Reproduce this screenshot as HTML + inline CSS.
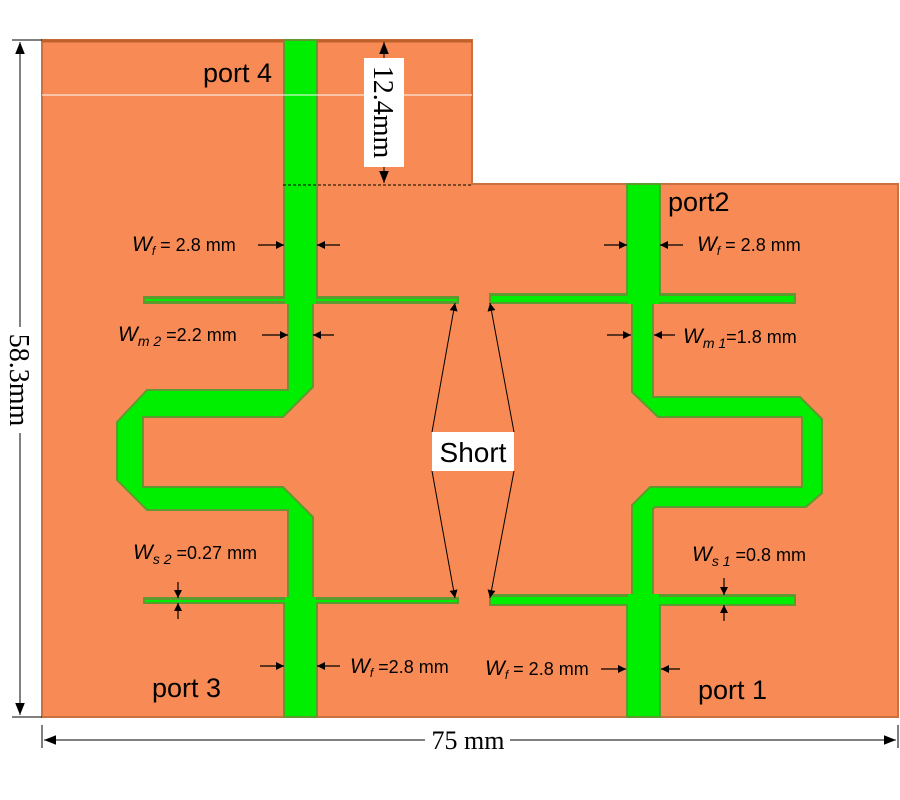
<!DOCTYPE html>
<html><head><meta charset="utf-8"><style>
html,body{margin:0;padding:0;background:#fff;}
svg{display:block;}
.s{font-family:"Liberation Sans",sans-serif;fill:#000;}
.r{font-family:"Liberation Serif",serif;fill:#000;}
</style></head><body>
<svg width="900" height="800" viewBox="0 0 900 800" xmlns="http://www.w3.org/2000/svg">
<defs>
<marker id="a" viewBox="0 0 10 10" refX="10" refY="5" markerWidth="8" markerHeight="8" orient="auto-start-reverse" markerUnits="userSpaceOnUse"><path d="M0,0 L10,5 L0,10 z" fill="#000"/></marker>
<marker id="b" viewBox="0 0 10 10" refX="10" refY="5" markerWidth="14" markerHeight="12" orient="auto-start-reverse" markerUnits="userSpaceOnUse"><path d="M0,1 L10,5 L0,9 z" fill="#000"/></marker>
</defs>
<!-- board -->
<path d="M42,40 H472 V184 H898 V717 H42 Z" fill="#F88B55" stroke="#C9713F" stroke-width="2"/>
<line x1="42" y1="41" x2="472" y2="41" stroke="#C0602A" stroke-width="3"/>
<!-- green -->
<g fill="#00EE00" stroke="#5E9A30" stroke-width="2" stroke-linejoin="miter">
<polygon points="288,300 313,300 313,387 283,417 143,417 143,487 283,487 313,517 313,600 288,600 288,510 147,510 117,480 117,422 147,390 288,390"/>
<polygon points="632,300 653,300 653,397 800,397 822,419 822,493 806,507 655,507 653,509 653,600 632,600 632,505 650,487 802,487 802,417 658,417 632,392"/>
<rect x="284" y="40" width="33" height="262"/>
<rect x="284" y="598" width="33" height="119"/>
<rect x="627" y="184" width="33" height="118"/>
<rect x="627" y="596" width="33" height="121"/>
</g>
<g fill="#5E9A30">
<rect x="143" y="296" width="316" height="8"/>
<rect x="143" y="597" width="316" height="7"/>
<rect x="489" y="293" width="307" height="11"/>
<rect x="489" y="594" width="307" height="12"/>
</g>
<g fill="#00EE00">
<rect x="285" y="296" width="31" height="8"/>
<rect x="285" y="597" width="31" height="7"/>
<rect x="628" y="293" width="31" height="11"/>
<rect x="628" y="594" width="31" height="12"/>
<rect x="145" y="299" width="312" height="2"/>
<rect x="145" y="600" width="312" height="2"/>
<rect x="491" y="296" width="303" height="6"/>
<rect x="491" y="597" width="303" height="7"/>
</g>
<line x1="42" y1="95" x2="472" y2="95" stroke="#fff" stroke-width="1"/>
<line x1="283" y1="185" x2="472" y2="185" stroke="#000" stroke-width="1" stroke-dasharray="3,2"/>
<!-- dimension lines -->
<line x1="12" y1="40" x2="42" y2="40" stroke="#000"/>
<line x1="12" y1="717" x2="42" y2="717" stroke="#000"/>
<line x1="20" y1="42" x2="20" y2="327" stroke="#000" marker-start="url(#b)"/>
<line x1="20" y1="433" x2="20" y2="715" stroke="#000" marker-end="url(#b)"/>
<text class="r" font-size="28" transform="translate(10,380) rotate(90)" text-anchor="middle">58.3mm</text>
<line x1="42" y1="725" x2="42" y2="748" stroke="#000"/>
<line x1="898" y1="725" x2="898" y2="748" stroke="#000"/>
<line x1="44" y1="740" x2="425" y2="740" stroke="#000" marker-start="url(#b)"/>
<line x1="510" y1="740" x2="896" y2="740" stroke="#000" marker-end="url(#b)"/>
<text class="r" font-size="26" x="468" y="749" text-anchor="middle">75 mm</text>
<!-- 12.4mm -->
<line x1="384" y1="60" x2="384" y2="42" stroke="#000" marker-end="url(#b)"/>
<line x1="384" y1="165" x2="384" y2="183" stroke="#000" marker-end="url(#b)"/>
<rect x="364" y="58" width="40" height="109" fill="#fff"/>
<text class="r" font-size="28" transform="translate(374,112) rotate(90)" text-anchor="middle">12.4mm</text>
<!-- ports -->
<text class="s" font-size="27" x="203" y="82">port 4</text>
<text class="s" font-size="27" x="668" y="211">port2</text>
<text class="s" font-size="27" x="152" y="697">port 3</text>
<text class="s" font-size="27" x="698" y="699">port 1</text>
<!-- Short -->
<g stroke="#000" stroke-width="1">
<line x1="432" y1="432" x2="455" y2="303" marker-end="url(#a)"/>
<line x1="514" y1="432" x2="490" y2="303" marker-end="url(#a)"/>
<line x1="432" y1="471" x2="455" y2="598" marker-end="url(#a)"/>
<line x1="514" y1="471" x2="490" y2="598" marker-end="url(#a)"/>
</g>
<rect x="432" y="432" width="82" height="39" fill="#fff"/>
<text class="s" font-size="28" x="473" y="462" text-anchor="middle">Short</text>
<!-- width arrows -->
<g stroke="#000" stroke-width="1.2">
<line x1="258" y1="245" x2="284" y2="245" marker-end="url(#a)"/>
<line x1="340" y1="245" x2="317" y2="245" marker-end="url(#a)"/>
<line x1="604" y1="245" x2="627" y2="245" marker-end="url(#a)"/>
<line x1="683" y1="245" x2="660" y2="245" marker-end="url(#a)"/>
<line x1="262" y1="335" x2="288" y2="335" marker-end="url(#a)"/>
<line x1="334" y1="335" x2="313" y2="335" marker-end="url(#a)"/>
<line x1="607" y1="335" x2="631" y2="335" marker-end="url(#a)"/>
<line x1="675" y1="335" x2="654" y2="335" marker-end="url(#a)"/>
<line x1="178" y1="582" x2="178" y2="598" marker-end="url(#a)"/>
<line x1="178" y1="619" x2="178" y2="603" marker-end="url(#a)"/>
<line x1="724" y1="578" x2="724" y2="595" marker-end="url(#a)"/>
<line x1="724" y1="621" x2="724" y2="605" marker-end="url(#a)"/>
<line x1="260" y1="666" x2="284" y2="666" marker-end="url(#a)"/>
<line x1="340" y1="666" x2="317" y2="666" marker-end="url(#a)"/>
<line x1="601" y1="669" x2="626" y2="669" marker-end="url(#a)"/>
<line x1="680" y1="669" x2="661" y2="669" marker-end="url(#a)"/>
</g>
<!-- labels -->
<g class="s" font-size="18">
<text x="132" y="251"><tspan font-style="italic" font-size="21">W</tspan><tspan font-style="italic" font-size="12" dy="4">f</tspan><tspan dy="-4"> = 2.8 mm</tspan></text>
<text x="697" y="251"><tspan font-style="italic" font-size="21">W</tspan><tspan font-style="italic" font-size="12" dy="4">f</tspan><tspan dy="-4"> = 2.8 mm</tspan></text>
<text x="118" y="341"><tspan font-style="italic" font-size="21">W</tspan><tspan font-style="italic" font-size="14" dy="5">m 2</tspan><tspan dy="-5"> =2.2 mm</tspan></text>
<text x="683" y="343"><tspan font-style="italic" font-size="21">W</tspan><tspan font-style="italic" font-size="14" dy="5">m 1</tspan><tspan dy="-5">=1.8 mm</tspan></text>
<text x="133" y="559"><tspan font-style="italic" font-size="21">W</tspan><tspan font-style="italic" font-size="14" dy="5">s 2</tspan><tspan dy="-5"> =0.27 mm</tspan></text>
<text x="692" y="561"><tspan font-style="italic" font-size="21">W</tspan><tspan font-style="italic" font-size="14" dy="5">s 1</tspan><tspan dy="-5"> =0.8 mm</tspan></text>
<text x="350" y="673"><tspan font-style="italic" font-size="21">W</tspan><tspan font-style="italic" font-size="12" dy="4">f</tspan><tspan dy="-4">  =2.8 mm</tspan></text>
<text x="485" y="675"><tspan font-style="italic" font-size="21">W</tspan><tspan font-style="italic" font-size="12" dy="4">f</tspan><tspan dy="-4"> = 2.8 mm</tspan></text>
</g>
</svg>
</body></html>
